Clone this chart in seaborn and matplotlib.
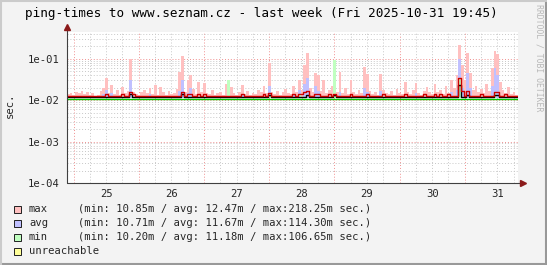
import numpy as np
import matplotlib
matplotlib.use("Agg")
import matplotlib.pyplot as plt
import seaborn as sns
import pandas as pd
from matplotlib.patches import Rectangle
from matplotlib.lines import Line2D

# hourly samples, first one starts on 24 Oct ~21:35 (day 24.9), values in ms
start_day = 24.9
max_ms = [14, 15, 13, 16,
          15, 17, 14, 16, 13, 15, 12.8, 13, 17, 20, 34, 15, 23, 14, 18, 13, 21, 15, 17, 100, 16, 14, 13, 16,
          18, 15, 20, 14, 23, 13, 21, 16, 13, 17, 14, 15, 19, 47, 115, 16, 30, 40, 19, 14, 27, 16, 26, 15,
          14, 18, 13, 15, 16, 13, 24, 27, 21, 15, 13, 16, 23, 14, 17, 13, 15, 14, 18, 16, 22, 15, 80, 16,
          14, 17, 13, 16, 19, 15, 14, 22, 16, 30, 18, 70, 135, 20, 16, 45, 40, 17, 30, 15, 18, 22, 95, 16,
          47, 15, 20, 14, 30, 16, 14, 18, 15, 65, 42, 17, 14, 16, 13, 42, 18, 15, 14, 17, 13, 19, 15, 14,
          27, 16, 14, 18, 26, 15, 13, 17, 21, 16, 14, 24, 16, 18, 14, 22, 15, 30, 20, 40, 215, 70, 30, 140,
          45, 18, 22, 16, 19, 15, 24, 17, 60, 150, 130, 28, 18, 15, 21, 14, 16, 13]

avg_base_ms = 11.9
avg_peak_idx = [13, 14, 16, 23, 30, 41, 42, 44, 45, 59, 64, 74, 83, 85, 87, 88, 91, 92, 100, 109, 110, 115,
                128, 135, 141, 143, 144, 145, 147, 148, 156, 157, 158]
avg_peak_ms = [14, 18, 15, 30, 14, 17, 30, 15, 20, 16, 14, 22, 14, 18, 25, 34, 22, 17, 16, 20, 16, 17,
               15, 14, 16, 18, 100, 20, 45, 20, 22, 60, 40]

min_base_ms = 11.3
min_peak_idx = [59, 74, 85, 98, 144, 157]
min_peak_ms = [30, 13, 14, 95, 34, 15]

# consolidated lines
red_base_ms = 12.6
red_bump_idx = [14, 20, 23, 24, 42, 44, 45, 48, 50, 64, 72, 74, 83, 85, 86, 87, 88, 91, 92, 96, 98, 104,
                110, 116, 124, 131, 135, 137, 140, 144, 145, 147, 152, 157, 158, 161]
red_bump_ms = [13.8, 13.8, 16, 13.8, 16, 13.8, 14, 13.8, 13.8, 13.8, 13.8, 15, 13.8, 14, 14, 16, 17, 14,
               14, 13.8, 13.8, 13.8, 13.8, 13.8, 13.8, 13.8, 13.8, 13.8, 13.8, 34, 17, 17, 13.8, 16, 16, 13.8]
black_base_ms = 11.7
black_bump_idx = [23, 42, 74, 88, 98, 144, 147, 157, 158]
black_bump_ms = [14, 14, 13, 13, 13.5, 23, 13, 13, 13]
green_base_ms = 10.9

day_labels = ["25", "26", "27", "28", "29", "30", "31"]
legend_names = ["max", "avg", "min", "unreachable"]
legend_stats = ["(min: 10.85m / avg: 12.47m / max:218.25m sec.)",
                "(min: 10.71m / avg: 11.67m / max:114.30m sec.)",
                "(min: 10.20m / avg: 11.18m / max:106.65m sec.)",
                ""]
legend_colors = ["#ffc0c0", "#c0c0ff", "#c0ffc0", "#ffff99"]


def series(base, idx, vals, n):
    s = np.full(n, base, dtype=float)
    s[idx] = vals
    return s


n = len(max_ms)
edges = start_day + np.arange(n + 1) / 24.0
mx = np.append(max_ms, max_ms[-1]) / 1000.0
av = np.append(series(avg_base_ms, avg_peak_idx, avg_peak_ms, n), avg_base_ms) / 1000.0
mn = np.append(series(min_base_ms, min_peak_idx, min_peak_ms, n), min_base_ms) / 1000.0
red = series(red_base_ms, red_bump_idx, red_bump_ms, n)
black = series(black_base_ms, black_bump_idx, black_bump_ms, n)
df = pd.DataFrame({
    "t": edges,
    "red": np.append(red, red[-1]) / 1000.0,
    "black": np.append(black, black[-1]) / 1000.0,
    "green": np.full(n + 1, green_base_ms) / 1000.0,
})

sns.set_style("white")
plt.rcParams["font.family"] = ["DejaVu Sans Mono"]

W, H = 547, 265
fig = plt.figure(figsize=(W / 100, H / 100), dpi=100, facecolor="#f3f3f3")
L, R, T, B = 67, 518, 32, 183
ax = fig.add_axes([L / W, 1 - B / H, (R - L) / W, (B - T) / H])
ax.set_facecolor("white")

base = 0.0112
ax.fill_between(edges, base, mx, where=mx > base, step="post", color="#ffc0c0", lw=0, zorder=2)
ax.fill_between(edges, base, av, where=av > base, step="post", color="#c0c0ff", lw=0, zorder=3)
ax.fill_between(edges, base, mn, where=mn > base, step="post", color="#c0ffc0", lw=0, zorder=4)

sns.lineplot(data=df, x="t", y="green", ax=ax, color="#00cc00", lw=1.0, drawstyle="steps-post", zorder=5)
sns.lineplot(data=df, x="t", y="black", ax=ax, color="#000000", lw=1.0, drawstyle="steps-post", zorder=6)
sns.lineplot(data=df, x="t", y="red", ax=ax, color="#cc0000", lw=1.0, drawstyle="steps-post", zorder=7)

ax.set_yscale("log")
ax.set_ylim(1e-4, 0.443)
ax.set_xlim(edges[0], edges[-1])
ax.set_yticks([1e-4, 1e-3, 1e-2, 1e-1])
ax.set_yticklabels(["1e-04", "1e-03", "1e-02", "1e-01"])
ax.yaxis.set_minor_locator(matplotlib.ticker.LogLocator(base=10, subs=np.arange(2, 10)))
ax.yaxis.set_minor_formatter(matplotlib.ticker.NullFormatter())

days = np.arange(25, 32)
ax.set_xticks(days)
ax.set_xticklabels([""] * len(days))
quarters = np.arange(24.0, 32.0, 0.25)
quarters = quarters[(quarters > edges[0]) & (quarters < edges[-1]) & (quarters % 1 != 0)]
ax.set_xticks(quarters, minor=True)
ax.set_xticklabels([day_labels[int(q) - 25] if abs(q % 1 - 0.5) < 1e-6 else "" for q in quarters],
                   minor=True)

ax.grid(which="major", axis="both", color="#f09090", ls=(0, (1, 2)), lw=0.7, zorder=1)
ax.grid(which="minor", axis="both", color="#c8c8c8", ls=(0, (1, 2)), lw=0.7, zorder=1)
ax.set_axisbelow(True)
ax.tick_params(axis="y", which="major", direction="inout", length=5, width=0.7, color="#404040",
               labelsize=7.6, pad=3)
ax.tick_params(axis="y", which="minor", length=0)
ax.tick_params(axis="x", which="major", direction="inout", length=3, width=0.7, color="#f09090")
ax.tick_params(axis="x", which="minor", direction="inout", length=2, width=0.6, color="#808080",
               labelsize=7.6, pad=3)
ax.set_xlabel("")
ax.set_ylabel("")
for s in ax.spines.values():
    s.set_visible(False)

# axis lines with arrows
ax.add_line(Line2D([0, 0], [0, 1.02], transform=ax.transAxes, color="#404040", lw=0.8, clip_on=False, zorder=10))
ax.add_line(Line2D([0, 1.01], [0, 0], transform=ax.transAxes, color="#404040", lw=0.8, clip_on=False, zorder=10))
ax.plot([0], [1.03], marker="^", ms=4.5, color="#8b1a1a", transform=ax.transAxes, clip_on=False, zorder=11)
ax.plot([1.012], [0], marker=">", ms=4.5, color="#8b1a1a", transform=ax.transAxes, clip_on=False, zorder=11)

fig.text(261 / W, 1 - 14 / H, "ping-times to www.seznam.cz - last week (Fri 2025-10-31 19:45)",
         ha="center", va="center", fontsize=9.1, color="black")
fig.text(10 / W, 1 - 105 / H, "sec.", rotation=90, ha="center", va="center", fontsize=7.6)
fig.text(539 / W, 1 - 58 / H, "RRDTOOL / TOBI OETIKER", rotation=270, ha="center", va="center",
         fontsize=5.9, color="#b8b8b8")

for k, (name, stat, col) in enumerate(zip(legend_names, legend_stats, legend_colors)):
    yc = 209 + 14 * k
    fig.add_artist(Rectangle((14 / W, 1 - (yc + 3.5) / H), 7 / W, 7 / H, transform=fig.transFigure,
                             facecolor=col, edgecolor="#202020", lw=0.7))
    fig.text(29 / W, 1 - yc / H, name, ha="left", va="center", fontsize=7.6)
    if stat:
        fig.text(78 / W, 1 - yc / H, stat, ha="left", va="center", fontsize=7.6)

# 3d frame of the canvas
fig.add_artist(Line2D([0, 1], [0.002, 0.002], transform=fig.transFigure, color="#999999", lw=1.5))
fig.add_artist(Line2D([0.998, 0.998], [0, 1], transform=fig.transFigure, color="#999999", lw=1.5))
fig.add_artist(Line2D([0, 1], [0.998, 0.998], transform=fig.transFigure, color="#cbcbcb", lw=1.5))
fig.add_artist(Line2D([0.002, 0.002], [0, 1], transform=fig.transFigure, color="#cbcbcb", lw=1.5))

fig.savefig("out.png", dpi=100, facecolor=fig.get_facecolor())
